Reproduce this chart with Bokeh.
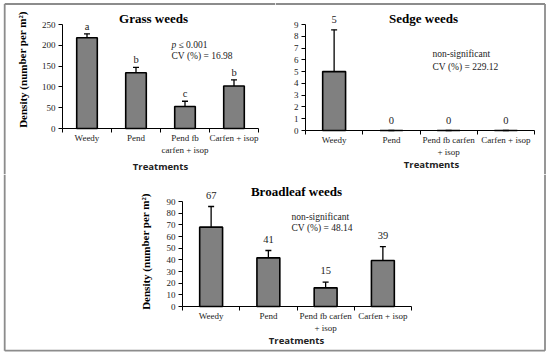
from bokeh.plotting import figure
from bokeh.models import Range1d, FixedTicker, Label, LabelSet, Whisker, ColumnDataSource, TeeHead
from bokeh.layouts import column, row
from bokeh.embed import file_html
from bokeh.resources import INLINE

# ---------------- data ----------------
treatments_grass = ["Weedy", "Pend", "Pend fb\ncarfen + isop", "Carfen + isop"]
treatments_other = ["Weedy", "Pend", "Pend fb carfen\n+ isop", "Carfen + isop"]

grass_density = [218, 134, 53, 102]
grass_se = [9.5, 13, 12.5, 15]
grass_labels = ["a", "b", "c", "b"]
grass_yticks = [0, 50, 100, 150, 200, 250]

sedge_density = [5, 0, 0, 0]
sedge_se = [3.55, 0, 0, 0]
sedge_labels = ["5", "0", "0", "0"]
sedge_yticks = [0, 1, 2, 3, 4, 5, 6, 7, 8, 9]

broad_density = [68, 41.7, 16, 39.4]
broad_se = [17.7, 6.3, 4.9, 12]
broad_labels = ["67", "41", "15", "39"]
broad_yticks = [0, 10, 20, 30, 40, 50, 60, 70, 80, 90]

SERIF = "Liberation Serif"
SANS = "Open Sans"
TXT = "#222222"
BORDER = "#8c8c8c"


def panel(box, axpx, title, cats, dens, se, labels, yticks, stats, italic_p,
          title_pos, stat_pos, treat_pos, ylabel_pos, bar_w, lab_off, borders):
    """box: (left, top, width, height) of the figure in picture pixels.
    axpx: picture pixel positions of x=0, x=4, y=0, y=ymax."""
    bl, bt, w, h = box
    x0p, x4p, y0p, ymp = axpx
    ymax = yticks[-1]
    sx = (x4p - x0p) / 4.0
    sy = (y0p - ymp) / float(ymax)
    X = lambda px: (px - x0p) / sx
    Y = lambda py: (y0p - py) / sy

    p = figure(width=w, height=h,
               x_range=Range1d(X(bl), X(bl + w)), y_range=Range1d(Y(bt + h), Y(bt)),
               output_backend="svg", toolbar_location=None,
               min_border_left=0, min_border_right=0, min_border_top=0, min_border_bottom=0)
    p.xgrid.visible = False
    p.ygrid.visible = False
    p.outline_line_color = None
    p.background_fill_color = "white"
    p.border_fill_color = "white"

    xs = [i + 0.5 for i in range(len(cats))]
    upper = [d + s for d, s in zip(dens, se)]
    src = ColumnDataSource(dict(x=xs, top=dens, upper=upper, lab=labels))
    p.vbar(x="x", top="top", width=bar_w, bottom=0, source=src,
           fill_color="#808080", line_color="black", line_width=1.6)
    p.add_layout(Whisker(source=src, base="x", lower="top", upper="upper", dimension="height",
                         lower_head=None, upper_head=TeeHead(size=6, line_width=1.3, line_color="black"),
                         line_width=1.3, line_color="black"))
    p.add_layout(LabelSet(source=src, x="x", y="upper", text="lab", y_offset=lab_off,
                          text_align="center", text_baseline="alphabetic",
                          text_font=SERIF, text_font_size="10.5px", text_color=TXT))

    # x axis
    xa = p.xaxis[0]
    xa.fixed_location = 0
    xa.bounds = (0, 4)
    xa.ticker = FixedTicker(ticks=xs, minor_ticks=[0, 1, 2, 3, 4])
    xa.major_label_overrides = {x: c for x, c in zip(xs, cats)}
    xa.major_tick_out = 0
    xa.major_tick_in = 0
    xa.minor_tick_out = 4
    xa.minor_tick_in = 0
    xa.minor_tick_line_color = "black"
    xa.axis_line_color = "black"
    xa.major_label_text_font = SERIF
    xa.major_label_text_font_size = "9px"
    xa.major_label_text_color = TXT
    xa.major_label_standoff = 0

    # y axis
    ya = p.yaxis[0]
    ya.fixed_location = 0
    ya.bounds = (0, ymax)
    ya.ticker = FixedTicker(ticks=yticks, minor_ticks=[])
    ya.major_tick_out = 4
    ya.major_tick_in = 0
    ya.major_tick_line_color = "black"
    ya.minor_tick_line_color = None
    ya.axis_line_color = "black"
    ya.major_label_text_font = SERIF
    ya.major_label_text_font_size = "9px"
    ya.major_label_text_color = TXT
    ya.major_label_standoff = 3

    # title
    p.add_layout(Label(x=X(title_pos[0]), y=Y(title_pos[1]), text=title, text_align="center",
                       text_baseline="middle", text_font=SERIF, text_font_style="bold",
                       text_font_size="13px", text_color="black"))
    # statistics
    sxp, sy1, sy2 = stat_pos
    if italic_p:
        p.add_layout(Label(x=X(sxp), y=Y(sy1), text="p", text_font=SERIF, text_font_style="italic",
                           text_font_size="9.5px", text_baseline="middle", text_color=TXT))
        p.add_layout(Label(x=X(sxp + 7), y=Y(sy1), text=stats[0], text_font=SERIF,
                           text_font_size="9.5px", text_baseline="middle", text_color=TXT))
    else:
        p.add_layout(Label(x=X(sxp), y=Y(sy1), text=stats[0], text_font=SERIF,
                           text_font_size="9.5px", text_baseline="middle", text_color=TXT))
    p.add_layout(Label(x=X(sxp), y=Y(sy2), text=stats[1], text_font=SERIF,
                       text_font_size="9.5px", text_baseline="middle", text_color=TXT))
    # axis titles
    p.add_layout(Label(x=X(treat_pos[0]), y=Y(treat_pos[1]), text="Treatments", text_align="center",
                       text_baseline="middle", text_font=SANS, text_font_style="bold",
                       text_font_size="9.5px", text_color=TXT))
    if ylabel_pos is not None:
        p.add_layout(Label(x=X(ylabel_pos[0]), y=Y(ylabel_pos[1]), angle=1.5708,
                           text="Density (number per m\u00b2)", text_align="center",
                           text_baseline="middle", text_font=SERIF, text_font_style="bold",
                           text_font_size="11px", text_color="black"))
    # outer frame of the whole figure
    for (ax0, ay0, ax1, ay1) in borders:
        p.segment(x0=[X(ax0)], y0=[Y(ay0)], x1=[X(ax1)], y1=[Y(ay1)],
                  line_color=BORDER, line_width=1.8)
    return p


L, R, T, B = 4.2, 544.5, 3.5, 350.2

p1 = panel((0, 0, 275, 174), (62, 258, 128, 24), "Grass weeds", treatments_grass,
           grass_density, grass_se, grass_labels, grass_yticks,
           ("\u2264 0.001", "CV (%) = 16.98"), True,
           (153, 18), (171, 44, 55), (160, 166), (22, 69), 0.42, 4,
           [(L, T, L, 174), (L, T, 275, T)])
p2 = panel((275, 0, 275, 174), (305, 534, 130, 24), "Sedge weeds", treatments_other,
           sedge_density, sedge_se, sedge_labels, sedge_yticks,
           ("non-significant", "CV (%) = 229.12"), False,
           (423, 18), (432, 53, 66), (431, 164), None, 0.4, 7,
           [(275, T, R, T), (R, T, R, 174)])
p3 = panel((0, 174, 550, 182), (182, 411, 306, 201), "Broadleaf weeds", treatments_other,
           broad_density, broad_se, broad_labels, broad_yticks,
           ("non-significant", "CV (%) = 48.14"), False,
           (296, 191), (291, 216, 227), (296, 340), (145, 251), 0.4, 8,
           [(L, 174, L, B), (R, 174, R, B), (L, B, R, B)])

layout = column(row(p1, p2), p3)

open("out.html", "w").write(file_html(layout, INLINE))
